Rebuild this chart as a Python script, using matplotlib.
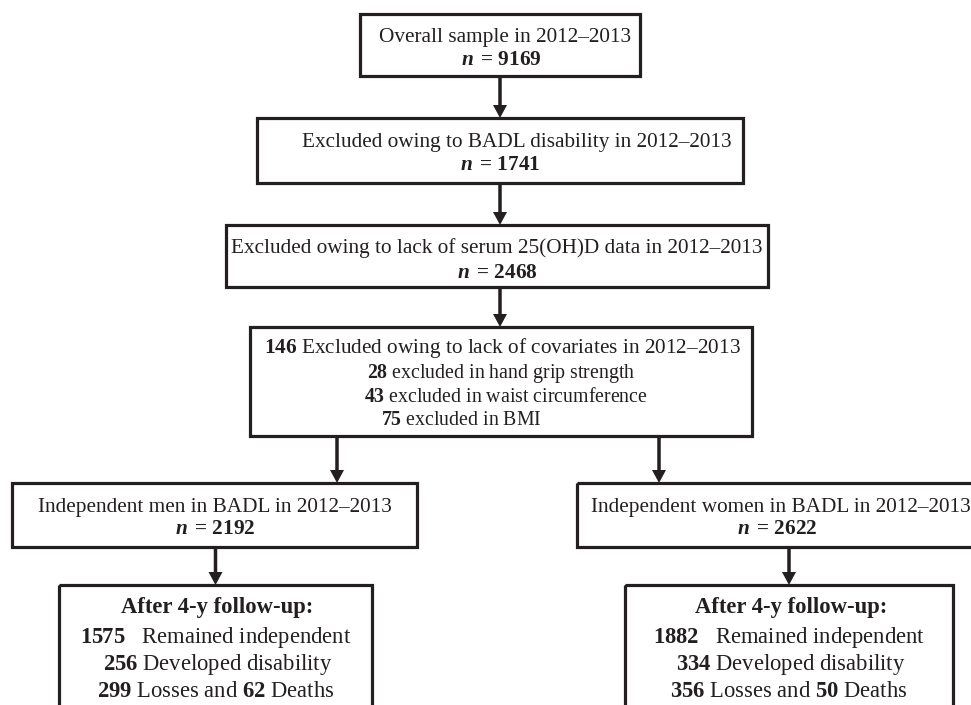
import matplotlib.pyplot as plt
from matplotlib.patches import Rectangle

# counts shown in the flow chart
overall_n = 9169
excluded_badl = 1741
excluded_vitd = 2468
excluded_cov = 146
cov_reasons = ['hand grip strength', 'waist circumference', 'BMI']
cov_counts = [28, 43, 75]
groups = ['men', 'women']
group_n = [2192, 2622]
remained = [1575, 1882]
developed = [256, 334]
losses = [299, 356]
deaths = [62, 50]

INK = '#231f20'

plt.rcParams['font.family'] = 'Liberation Serif'
plt.rcParams['mathtext.fontset'] = 'custom'
plt.rcParams['mathtext.rm'] = 'Liberation Serif'
plt.rcParams['mathtext.it'] = 'Liberation Serif:italic'
plt.rcParams['mathtext.bf'] = 'Liberation Serif:bold'
plt.rcParams['mathtext.bfit'] = 'Liberation Serif:italic:bold'


def n_label(n):
    return r'$\mathbfit{n}\;\mathbf{=}\,\mathbf{%d}$' % n


def bold(v):
    return r'$\mathbf{%d}$' % v


def box(ax, x0, y0, x1, y1):
    ax.add_patch(Rectangle((x0, y0), x1 - x0, y1 - y0, fill=False,
                           edgecolor=INK, lw=2.3, zorder=2))


def arrow(ax, x, y0, y1):
    ax.arrow(x, y0, 0, y1 - y0, width=3.5, head_width=14, head_length=13,
             length_includes_head=True, color=INK, lw=0, zorder=3)


def txt(ax, x, y, s, size=15.3, ha='center', weight='normal'):
    ax.text(x, y, s, fontsize=size, ha=ha, va='baseline', color=INK,
            fontweight=weight, zorder=4)


fig = plt.figure(figsize=(9.71, 7.05), dpi=100)
ax = fig.add_axes([0, 0, 1, 1])
ax.set_xlim(0, 971)
ax.set_ylim(705, 0)
ax.axis('off')

# box 1
box(ax, 360, 14, 640, 76)
txt(ax, 505, 42, 'Overall sample in 2012–2013')
txt(ax, 501, 65, n_label(overall_n))
arrow(ax, 500, 76, 118)

# box 2
box(ax, 257, 118, 743, 183)
txt(ax, 302, 147, 'Excluded owing to BADL disability in 2012–2013', ha='left')
txt(ax, 500, 170, n_label(excluded_badl))
arrow(ax, 500, 183, 225)

# box 3
box(ax, 226, 225, 768, 287)
txt(ax, 497, 253, 'Excluded owing to lack of serum 25(OH)D data in 2012–2013')
txt(ax, 497, 278, n_label(excluded_vitd))
arrow(ax, 500, 287, 327)

# box 4
box(ax, 250, 327, 752, 436)
txt(ax, 502, 353, bold(excluded_cov) + ' Excluded owing to lack of covariates in 2012–2013')
cov_x = [367, 364, 381]
cov_y = [378, 402, 425]
for i in range(len(cov_counts)):
    txt(ax, cov_x[i], cov_y[i], bold(cov_counts[i]) + ' excluded in ' + cov_reasons[i],
        size=14.3, ha='left')

# group boxes
group_box = [(12, 417), (577, 990)]
group_cx = [215, 777]
arrow_x = [337, 659]
follow_box = [(59, 372), (625, 953)]
for i in range(len(groups)):
    arrow(ax, arrow_x[i], 436, 483)
    box(ax, group_box[i][0], 483, group_box[i][1], 547)
    if i == 0:
        txt(ax, group_cx[i], 512, 'Independent %s in BADL in 2012–2013' % groups[i])
    else:
        txt(ax, 591, 512, 'Independent %s in BADL in 2012–2013' % groups[i], ha='left')
    txt(ax, group_cx[i], 534, n_label(group_n[i]))
    fx0, fx1 = follow_box[i]
    cx = (fx0 + fx1) / 2
    arrow(ax, cx, 547, 585)
    box(ax, fx0, 585, fx1, 760)
    txt(ax, cx + 2, 613, 'After 4-y follow-up:', size=16.3, weight='bold')
    txt(ax, cx, 643, bold(remained[i]) + '   Remained independent', size=16.3)
    txt(ax, cx + 2, 670, bold(developed[i]) + ' Developed disability', size=16.3)
    txt(ax, cx, 697, bold(losses[i]) + ' Losses and ' + bold(deaths[i]) + ' Deaths', size=16.3)

fig.savefig('out.png', dpi=100)
